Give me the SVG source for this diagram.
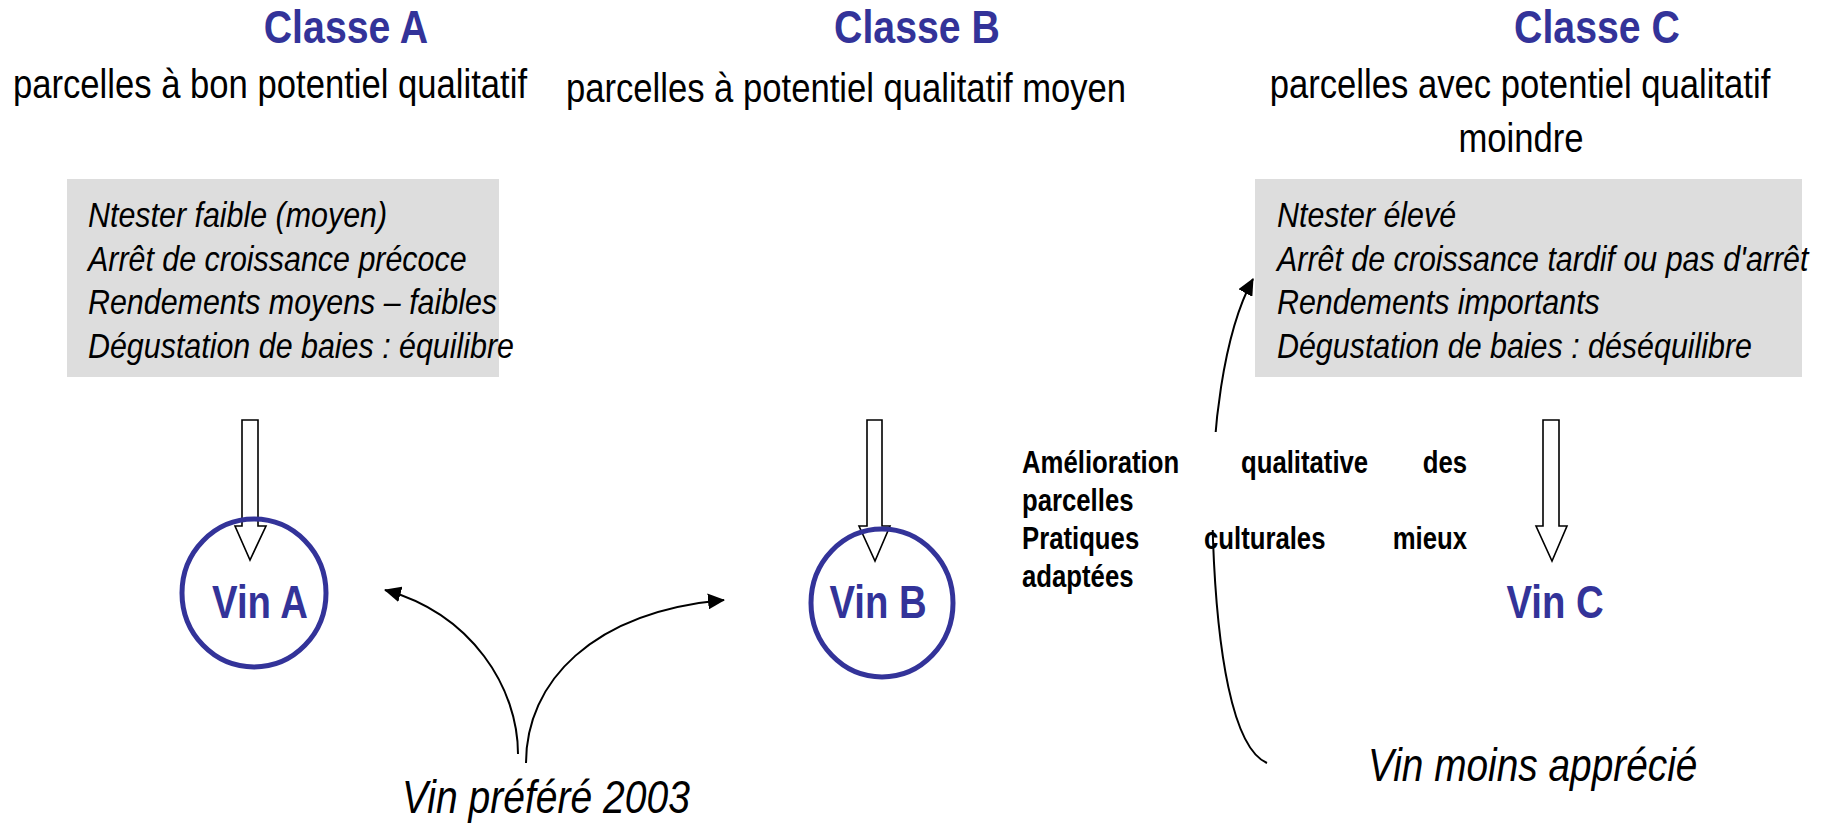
<svg xmlns="http://www.w3.org/2000/svg" width="1836" height="829" viewBox="0 0 1836 829">
<style>
text{font-family:"Liberation Sans",Arial,sans-serif}
.title{font-size:46px;font-weight:bold;fill:#333399;text-anchor:middle}
.sub{font-size:40px;fill:#000;text-anchor:middle}
.box{font-size:36px;font-style:italic;fill:#000}
.mid{font-size:31px;font-weight:bold;fill:#000}
.vin{font-size:46px;font-weight:bold;fill:#333399;text-anchor:middle}
.lbl{font-size:46px;font-style:italic;fill:#000}
.panel{fill:#dddddd}
.block{fill:#fff;stroke:#000;stroke-width:1.6}
.ring{fill:none;stroke:#333399;stroke-width:5}
.curve{fill:none;stroke:#000;stroke-width:2}
</style>
<defs>
<marker id="ah" markerUnits="userSpaceOnUse" markerWidth="18" markerHeight="16" refX="16" refY="8" orient="auto">
<path d="M0,0 L17,8 L0,16 Z" fill="#000"/>
</marker>
</defs>
<rect width="1836" height="829" fill="#fff"/>

<g id="classA">
<text class="title" transform="translate(346,43) scale(0.854,1)">Classe A</text>
<text class="sub" transform="translate(270,98) scale(0.866,1)">parcelles à bon potentiel qualitatif</text>
</g>
<g id="classB">
<text class="title" transform="translate(917,43) scale(0.854,1)">Classe B</text>
<text class="sub" transform="translate(846,102) scale(0.866,1)">parcelles à potentiel qualitatif moyen</text>
</g>
<g id="classC">
<text class="title" transform="translate(1597,43) scale(0.854,1)">Classe C</text>
<text class="sub" transform="translate(1520,98) scale(0.866,1)">parcelles avec potentiel qualitatif</text>
<text class="sub" transform="translate(1521,152) scale(0.866,1)">moindre</text>
</g>

<g id="boxA">
<rect class="panel" x="67" y="179" width="432" height="198"/>
<text class="box" transform="translate(88,227) scale(0.845,1)">Ntester faible (moyen)</text>
<text class="box" transform="translate(88,271) scale(0.845,1)">Arrêt de croissance précoce</text>
<text class="box" transform="translate(88,314) scale(0.845,1)">Rendements moyens – faibles</text>
<text class="box" transform="translate(88,358) scale(0.845,1)">Dégustation de baies : équilibre</text>
</g>

<g id="boxC">
<rect class="panel" x="1255" y="179" width="547" height="198"/>
<text class="box" transform="translate(1277,227) scale(0.845,1)">Ntester élevé</text>
<text class="box" transform="translate(1277,271) scale(0.845,1)">Arrêt de croissance tardif ou pas d'arrêt</text>
<text class="box" transform="translate(1277,314) scale(0.845,1)">Rendements importants</text>
<text class="box" transform="translate(1277,358) scale(0.845,1)">Dégustation de baies : déséquilibre</text>
</g>

<g id="connectors">
<polygon class="block" points="242,420 258,420 258,526 266,526 250,560 235,526 242,526"/>
<polygon class="block" points="867,420 882,420 882,526 890,526 875,561 859,526 867,526"/>
<polygon class="block" points="1543,420 1559,420 1559,526 1567,526 1552,561 1536,526 1543,526"/>
<path class="curve" d="M518,754 C518,688 472,614 385,590" marker-end="url(#ah)"/>
<path class="curve" d="M526,763 C526,682 592,612 724,600" marker-end="url(#ah)"/>
<path class="curve" d="M1267,763 C1232,748 1217,650 1213,540 S1225,330 1253,279" marker-end="url(#ah)"/>
</g>

<g id="vinA">
<ellipse class="ring" cx="254" cy="593" rx="72" ry="74"/>
<text class="vin" transform="translate(260,618) scale(0.833,1)">Vin A</text>
</g>
<g id="vinB">
<ellipse class="ring" cx="882" cy="603" rx="71" ry="74"/>
<text class="vin" transform="translate(878,618) scale(0.833,1)">Vin B</text>
</g>
<g id="vinC">
<text class="vin" transform="translate(1555,618) scale(0.833,1)">Vin C</text>
</g>

<g id="amelioration">
<rect x="1015" y="432" width="460" height="98" fill="#fff"/>
<text class="mid" transform="translate(1022,473) scale(0.83,1)">Amélioration</text>
<text class="mid" transform="translate(1241,473) scale(0.83,1)">qualitative</text>
<text class="mid" text-anchor="end" transform="translate(1467,473) scale(0.83,1)">des</text>
<text class="mid" transform="translate(1022,511) scale(0.83,1)">parcelles</text>
<text class="mid" transform="translate(1022,549) scale(0.83,1)">Pratiques</text>
<text class="mid" transform="translate(1204,549) scale(0.83,1)">culturales</text>
<text class="mid" text-anchor="end" transform="translate(1467,549) scale(0.83,1)">mieux</text>
<text class="mid" transform="translate(1022,587) scale(0.83,1)">adaptées</text>
</g>

<g id="vinPrefere">
<text class="lbl" transform="translate(402,813) scale(0.849,1)">Vin préféré 2003</text>
</g>
<g id="vinMoins">
<text class="lbl" transform="translate(1368,781) scale(0.844,1)">Vin moins apprécié</text>
</g>
</svg>
